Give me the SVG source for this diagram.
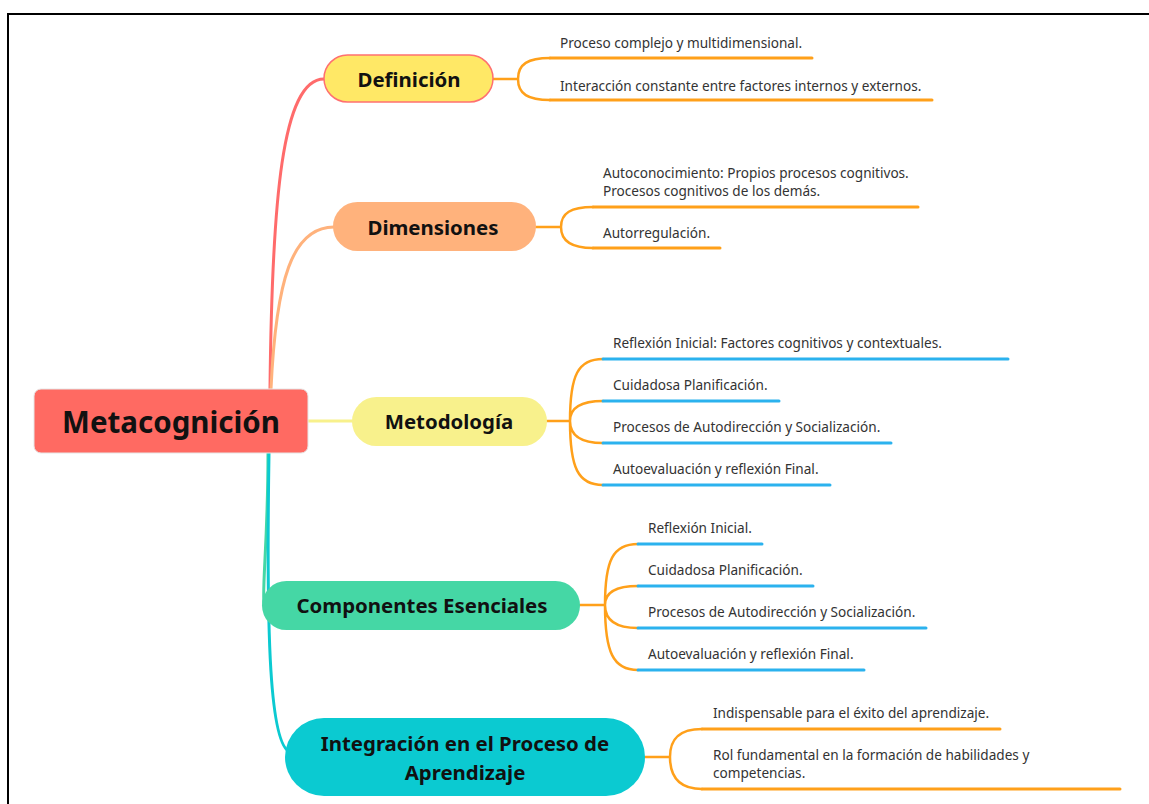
<svg xmlns="http://www.w3.org/2000/svg" width="1149" height="804" viewBox="0 0 1149 804">
<style>
.nt{font-family:"Noto Sans","Open Sans",sans-serif;font-weight:bold;fill:#111;text-anchor:middle;dominant-baseline:central}
.ct{font-family:"Noto Sans","Open Sans",sans-serif;font-size:13.6px;fill:#333;dominant-baseline:central}
.br{fill:none;stroke:#FFA01A;stroke-width:2.5;stroke-linecap:round}
.ul{fill:none;stroke:#FFA01A;stroke-width:3;stroke-linecap:round}
.ub{fill:none;stroke:#2BB2EE;stroke-width:3;stroke-linecap:round}
.mc{fill:none;stroke-width:3;stroke-linecap:round}
</style>
<rect x="0" y="0" width="1149" height="804" fill="#fff"/>
<path d="M8 804 V14 H1149" fill="none" stroke="#000" stroke-width="2"/>
<g id="connectors">
<path class="mc" stroke="#FF6B6B" d="M270 389 C272 200 282 79 324 79"/>
<path class="mc" stroke="#FFB27C" d="M271 389 C276 280 292 227 334 227"/>
<path class="mc" stroke="#F8F18C" d="M308 421 H353"/>
<path class="mc" stroke="#45D7A5" d="M268 453 C268 540 262 585 264 605"/>
<path class="mc" stroke="#0BCAD1" d="M269 453 C266 640 270 745 290 752"/>
<!-- Definición -->
<path class="br" d="M493 79 H518 M518 79 C518 64 528 58 550 58 M518 79 C518 94 528 100 550 100"/>
<path class="ul" d="M550 58 H812 M550 100 H932"/>
<!-- Dimensiones -->
<path class="br" d="M536 227 H561 M561 227 C561 213 571 207 593 207 M561 227 C561 241 571 248 593 248"/>
<path class="ul" d="M593 207 H918 M593 248 H720"/>
<!-- Metodología -->
<path class="br" d="M547 421 H570 M570 421 C570 375 578 359 603 359 M570 421 C570 408 580 401 603 401 M570 421 C570 435 580 443 603 443 M570 421 C570 468 578 485 603 485"/>
<path class="ub" d="M603 359 H1008 M603 401 H779 M603 443 H891 M603 485 H830"/>
<!-- Componentes -->
<path class="br" d="M580 605 H605 M605 605 C605 560 613 544 638 544 M605 605 C605 593 615 586 638 586 M605 605 C605 619 615 628 638 628 M605 605 C605 652 613 670 638 670"/>
<path class="ub" d="M638 544 H762 M638 586 H813 M638 628 H926 M638 670 H864"/>
<!-- Integración -->
<path class="br" d="M645 757 H670 M670 757 C670 740 678 729 702 729 M670 757 C670 776 678 789 702 789"/>
<path class="ul" d="M702 729 H1000 M702 789 H1120"/>
</g>
<g id="n-central">
<rect x="34" y="389" width="274" height="64" rx="7" fill="#FF6A62" stroke="#e6e6e6" stroke-width="1"/>
<text class="nt" x="171" y="421" font-size="29.5">Metacognición</text>
</g>
<g id="n-definicion">
<rect x="324" y="55" width="169" height="47" rx="23.5" fill="#FFE866" stroke="#FF7070" stroke-width="1.5"/>
<text class="nt" x="409" y="79" font-size="20.4">Definición</text>
</g>
<g id="n-dimensiones">
<rect x="333" y="202" width="203" height="49" rx="24.5" fill="#FFB27C"/>
<text class="nt" x="433" y="227" font-size="20.4">Dimensiones</text>
</g>
<g id="n-metodologia">
<rect x="352" y="397" width="195" height="49" rx="24.5" fill="#F8F18C"/>
<text class="nt" x="449" y="421" font-size="20.4">Metodología</text>
</g>
<g id="n-componentes">
<rect x="262" y="581" width="318" height="49" rx="24.5" fill="#45D7A5"/>
<text class="nt" x="422" y="605" font-size="20.4">Componentes Esenciales</text>
</g>
<g id="n-integracion">
<rect x="285" y="718" width="360" height="78" rx="39" fill="#0BCAD1"/>
<text class="nt" x="465" y="743" font-size="20.4">Integración en el Proceso de</text>
<text class="nt" x="465" y="772" font-size="20.4">Aprendizaje</text>
</g>
<g id="c-def1"><text class="ct" x="560" y="42">Proceso complejo y multidimensional.</text></g>
<g id="c-def2"><text class="ct" x="560" y="85">Interacción constante entre factores internos y externos.</text></g>
<g id="c-dim1"><text class="ct" x="603" y="172">Autoconocimiento: Propios procesos cognitivos.</text><text class="ct" x="603" y="190">Procesos cognitivos de los demás.</text></g>
<g id="c-dim2"><text class="ct" x="603" y="232">Autorregulación.</text></g>
<g id="c-met1"><text class="ct" x="613" y="342">Reflexión Inicial: Factores cognitivos y contextuales.</text></g>
<g id="c-met2"><text class="ct" x="613" y="384">Cuidadosa Planificación.</text></g>
<g id="c-met3"><text class="ct" x="613" y="426">Procesos de Autodirección y Socialización.</text></g>
<g id="c-met4"><text class="ct" x="613" y="468">Autoevaluación y reflexión Final.</text></g>
<g id="c-com1"><text class="ct" x="648" y="527">Reflexión Inicial.</text></g>
<g id="c-com2"><text class="ct" x="648" y="569">Cuidadosa Planificación.</text></g>
<g id="c-com3"><text class="ct" x="648" y="611">Procesos de Autodirección y Socialización.</text></g>
<g id="c-com4"><text class="ct" x="648" y="653">Autoevaluación y reflexión Final.</text></g>
<g id="c-int1"><text class="ct" x="713" y="712">Indispensable para el éxito del aprendizaje.</text></g>
<g id="c-int2"><text class="ct" x="713" y="754">Rol fundamental en la formación de habilidades y</text><text class="ct" x="713" y="772">competencias.</text></g>
</svg>
